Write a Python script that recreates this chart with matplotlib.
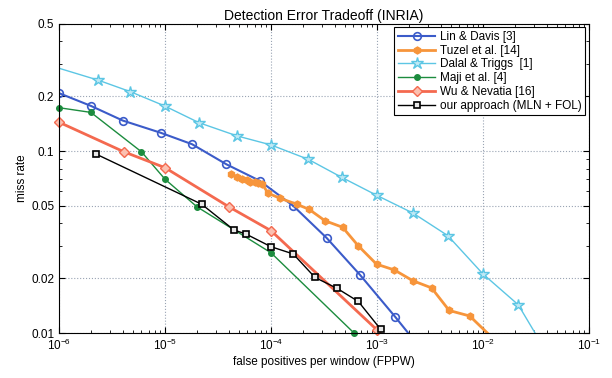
import matplotlib
matplotlib.use('Agg')
import matplotlib.pyplot as plt
from matplotlib.ticker import LogLocator, NullFormatter, FixedLocator, FixedFormatter

plt.rcParams['font.family'] = ['Liberation Sans', 'DejaVu Sans']

# data (FPPW, miss rate)
lin_x = [1e-6, 2.0e-6, 4.0e-6, 9.1e-6, 1.8e-5, 3.8e-5, 7.8e-5, 1.62e-4, 3.35e-4, 6.9e-4, 1.48e-3, 1.97e-3]
lin_y = [0.208, 0.177, 0.147, 0.126, 0.109, 0.0845, 0.0687, 0.050, 0.0333, 0.0209, 0.0123, 0.010]

tuzel_x = [4.2e-5, 4.75e-5, 5.3e-5, 5.9e-5, 6.4e-5, 7.0e-5, 7.6e-5, 8.3e-5, 9.4e-5, 1.22e-4, 1.75e-4,
           2.29e-4, 3.23e-4, 4.74e-4, 6.67e-4, 9.9e-4, 1.46e-3, 2.17e-3, 3.27e-3, 4.8e-3, 7.5e-3, 1.1e-2]
tuzel_y = [0.0748, 0.0722, 0.0702, 0.069, 0.068, 0.0673, 0.0665, 0.0655, 0.0586, 0.055, 0.051,
           0.0478, 0.0414, 0.0381, 0.0301, 0.0239, 0.0222, 0.0194, 0.0177, 0.0133, 0.0124, 0.010]

dalal_x = [1e-6, 2.35e-6, 4.7e-6, 9.9e-6, 2.1e-5, 4.8e-5, 1.0e-4, 2.25e-4, 4.64e-4, 1.0e-3, 2.2e-3,
           4.65e-3, 1.0e-2, 2.15e-2, 3.1e-2]
dalal_y = [0.285, 0.245, 0.212, 0.177, 0.143, 0.121, 0.108, 0.090, 0.0717, 0.057, 0.0455,
           0.0343, 0.0211, 0.0143, 0.010]

maji_x = [1e-6, 2.0e-6, 6.0e-6, 1.0e-5, 2.0e-5, 1.0e-4, 6.07e-4]
maji_y = [0.173, 0.163, 0.099, 0.070, 0.0494, 0.0276, 0.010]

wu_x = [1e-6, 4.1e-6, 1.0e-5, 4.0e-5, 1.0e-4, 1.0e-3]
wu_y = [0.144, 0.099, 0.081, 0.0494, 0.0365, 0.0104]

ours_x = [2.23e-6, 2.22e-5, 4.48e-5, 5.8e-5, 1.0e-4, 1.62e-4, 2.6e-4, 4.2e-4, 6.67e-4, 1.08e-3]
ours_y = [0.0963, 0.051, 0.0368, 0.035, 0.0298, 0.0272, 0.0202, 0.0176, 0.0149, 0.0105]

y_ticks = [0.01, 0.02, 0.05, 0.1, 0.2, 0.5]
y_labels = ['0.01', '0.02', '0.05', '0.1', '0.2', '0.5']

fig = plt.figure(figsize=(6.12, 3.78), dpi=100)
ax = fig.add_axes([0.0964, 0.119, 0.866, 0.818])

ax.plot(lin_x, lin_y, '-o', color='#3b5bc9', lw=1.5, ms=5.5, mfc='none', mew=1.2,
        markevery=list(range(len(lin_x) - 1)), label='Lin & Davis [3]')
ax.plot(tuzel_x, tuzel_y, '-h', color='#f7953b', lw=2, ms=5,
        markevery=list(range(len(tuzel_x) - 1)), label='Tuzel et al. [14]')
ax.plot(dalal_x, dalal_y, '-*', color='#5cc6e4', lw=1, ms=9, mfc='#bfe9f5', mew=1,
        markevery=list(range(1, len(dalal_x) - 1)), label='Dalal & Triggs  [1]')
ax.plot(maji_x, maji_y, '-o', color='#1c8c3e', lw=1, ms=4, clip_on=False, label='Maji et al. [4]')
ax.plot(wu_x, wu_y, '-D', color='#f4694f', lw=2, ms=5.5, mfc='#fbc0b0', mew=1, clip_on=False,
        label='Wu & Nevatia [16]')
ax.plot(ours_x, ours_y, '-s', color='black', lw=1, ms=5, mfc='#e8e8e8', mew=1.2, clip_on=False,
        label='our approach (MLN + FOL)')

ax.set_xscale('log')
ax.set_yscale('log')
ax.set_xlim(1e-6, 1e-1)
ax.set_ylim(0.01, 0.5)
ax.yaxis.set_major_locator(FixedLocator(y_ticks))
ax.yaxis.set_major_formatter(FixedFormatter(y_labels))
ax.yaxis.set_minor_locator(LogLocator(base=10, subs=range(2, 10)))
ax.yaxis.set_minor_formatter(NullFormatter())
ax.xaxis.set_minor_locator(LogLocator(base=10, subs=range(2, 10)))
ax.xaxis.set_minor_formatter(NullFormatter())
ax.tick_params(which='both', direction='in', top=True, right=True, labelsize=8.5)
ax.tick_params(which='major', length=4)
ax.tick_params(which='minor', length=2)
ax.grid(True, which='major', linestyle=':', color='#9aa4b4', lw=0.8)

ax.set_title('Detection Error Tradeoff (INRIA)', fontsize=10, pad=3)
ax.set_xlabel('false positives per window (FPPW)', fontsize=8.5, labelpad=2)
ax.set_ylabel('miss rate', fontsize=8.5, labelpad=2)

leg = ax.legend(loc='upper right', fontsize=8.5, frameon=True, fancybox=False,
                edgecolor='black', framealpha=1, handlelength=3.2, borderaxespad=0.3,
                labelspacing=0.15, handletextpad=0.4, borderpad=0.3)
leg.get_frame().set_linewidth(0.8)

fig.savefig('out.png', dpi=100)
